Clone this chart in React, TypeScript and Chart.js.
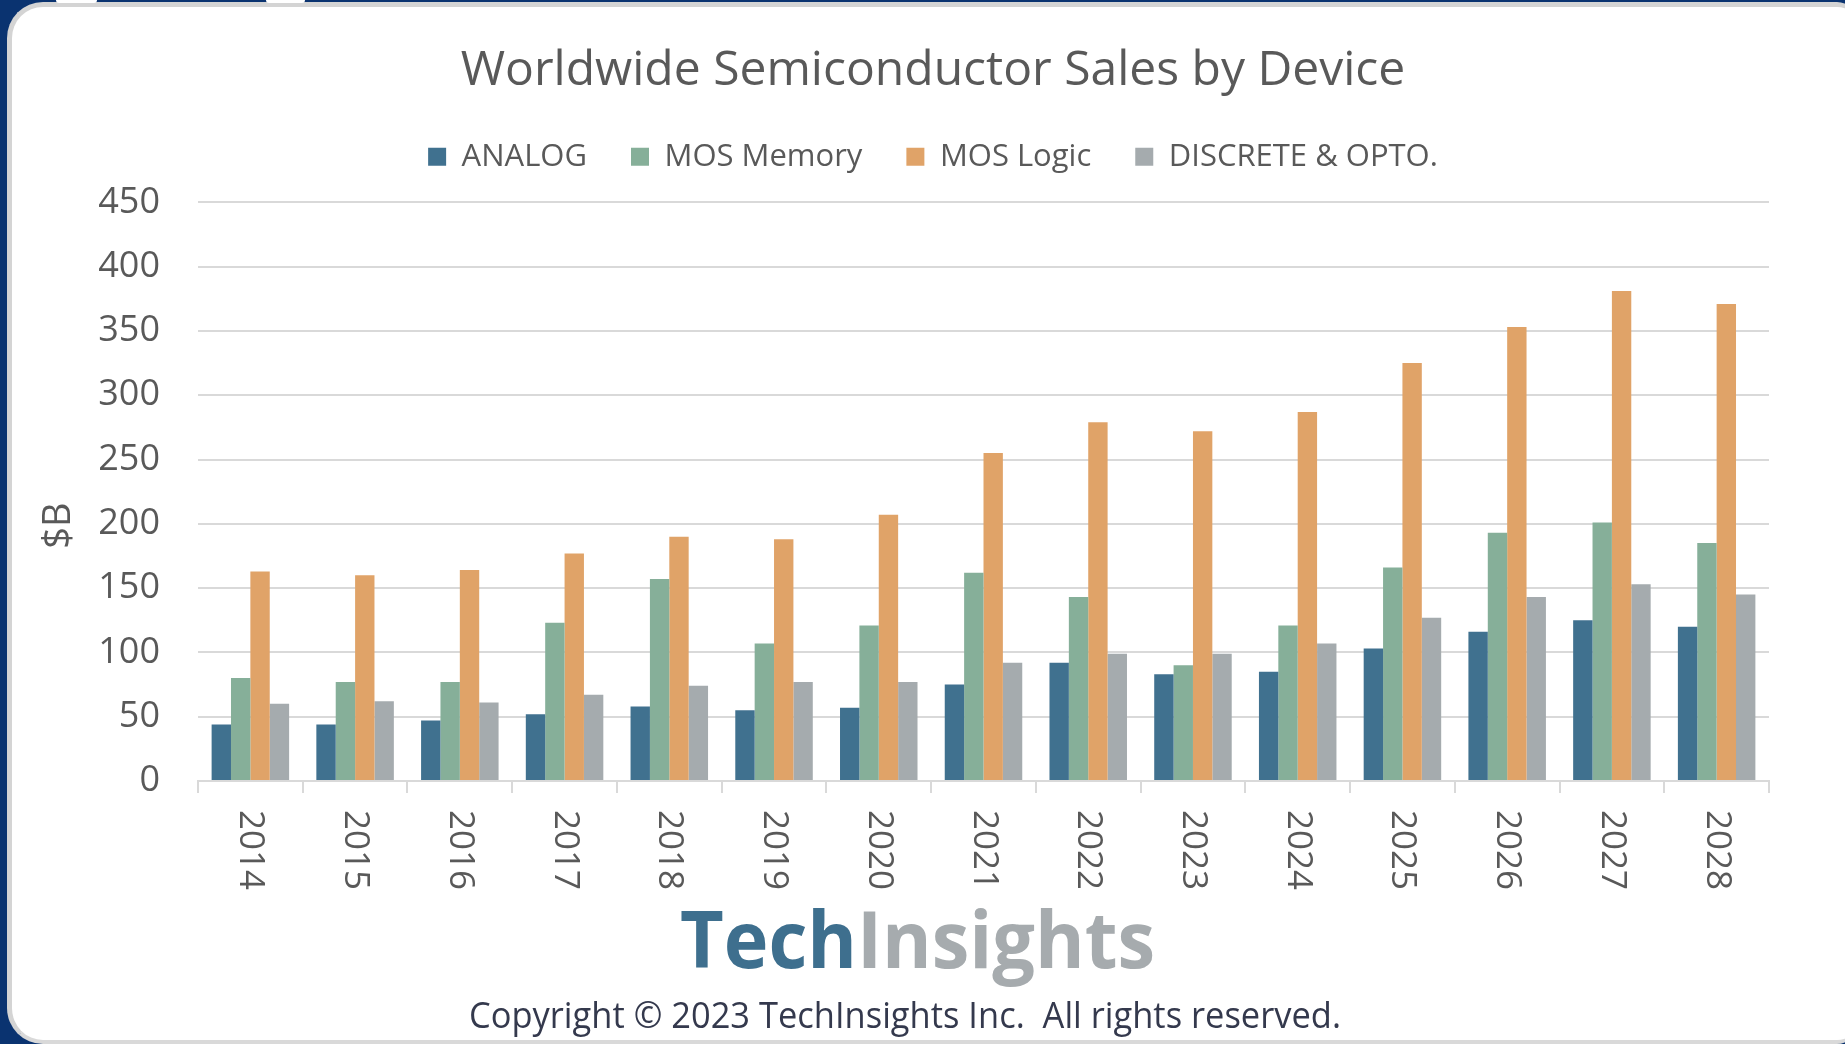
import React, { useEffect, useRef } from "react";
import { Chart, registerables } from "chart.js";

Chart.register(...registerables);

const years = ["2014", "2015", "2016", "2017", "2018", "2019", "2020", "2021", "2022", "2023", "2024", "2025", "2026", "2027", "2028"];
const analog = [44, 44, 47, 52, 58, 55, 57, 75, 92, 83, 85, 103, 116, 125, 120];
const mosMemory = [80, 77, 77, 123, 157, 107, 121, 162, 143, 90, 121, 166, 193, 201, 185];
const mosLogic = [163, 160, 164, 177, 190, 188, 207, 255, 279, 272, 287, 325, 353, 381, 371];
const discreteOpto = [60, 62, 61, 67, 74, 77, 77, 92, 99, 99, 107, 127, 143, 153, 145];

const seriesNames = ["ANALOG", "MOS Memory", "MOS Logic", "DISCRETE & OPTO."];
const seriesColors = ["#40718f", "#86af99", "#e0a368", "#a5abae"];

const titleText = "Worldwide Semiconductor Sales by Device";
const yAxisTitle = "$B";
const logoPart1 = "Tech";
const logoPart2 = "Insights";
const copyrightText = "Copyright \u00a9 2023 TechInsights Inc.  All rights reserved.";

const FONT = "'Open Sans', 'Noto Sans', sans-serif";
const TEXT = "#595959";

const extrasPlugin = {
  id: "extras",
  afterDraw(chart: any) {
    const ctx = chart.ctx as CanvasRenderingContext2D;
    const xs = chart.scales.x;
    const ys = chart.scales.y;
    ctx.save();
    // x labels rotated clockwise (reading top to bottom)
    ctx.fillStyle = TEXT;
    ctx.font = `35px ${FONT}`;
    ctx.textAlign = "left";
    ctx.textBaseline = "middle";
    years.forEach((label, i) => {
      const px = xs.getPixelForValue(i);
      ctx.save();
      ctx.translate(px, xs.top + 29);
      ctx.rotate(Math.PI / 2);
      ctx.fillText(label, 0, 0);
      ctx.restore();
    });
    // y axis title
    ctx.save();
    ctx.font = `38px ${FONT}`;
    ctx.textAlign = "center";
    ctx.textBaseline = "middle";
    ctx.translate(59, (ys.top + ys.bottom) / 2 + 34);
    ctx.rotate(-Math.PI / 2);
    ctx.fillText(yAxisTitle, 0, 0);
    ctx.restore();
    // logo
    ctx.save();
    ctx.font = `bold 79px ${FONT}`;
    ctx.textAlign = "left";
    ctx.textBaseline = "alphabetic";
    const w1 = ctx.measureText(logoPart1).width;
    const w2 = ctx.measureText(logoPart2).width;
    const sx = 475 / (w1 + w2);
    ctx.translate(680, 968);
    ctx.scale(sx, 1);
    ctx.fillStyle = "#3e6f8e";
    ctx.fillText(logoPart1, 0, 0);
    ctx.fillStyle = "#a6abae";
    ctx.fillText(logoPart2, w1, 0);
    ctx.restore();
    // copyright
    ctx.save();
    ctx.font = `36px ${FONT}`;
    ctx.textAlign = "left";
    ctx.textBaseline = "alphabetic";
    const cw = ctx.measureText(copyrightText).width;
    ctx.translate(469, 1028);
    ctx.scale(872 / cw, 1);
    ctx.fillStyle = "#34394d";
    ctx.fillText(copyrightText, 0, 0);
    ctx.restore();
    ctx.restore();
  },
};

export default function App() {
  const canvasRef = useRef<HTMLCanvasElement | null>(null);

  useEffect(() => {
    if (!canvasRef.current) return;
    const values = [analog, mosMemory, mosLogic, discreteOpto];
    const chart = new Chart(canvasRef.current, {
      type: "bar",
      data: {
        labels: years,
        datasets: seriesNames.map((name, i) => ({
          label: name,
          data: values[i],
          backgroundColor: seriesColors[i],
          borderWidth: 0,
          categoryPercentage: 0.74,
          barPercentage: 1.0,
        })),
      },
      options: {
        animation: false,
        responsive: true,
        maintainAspectRatio: false,
        layout: { padding: { left: 97, right: 76, top: 0, bottom: 0 } },
        plugins: {
          title: {
            display: true,
            text: titleText,
            color: TEXT,
            font: { family: FONT, size: 48, weight: "normal" as any, lineHeight: 1.1 },
            padding: { top: 44.5, bottom: 0 },
          },
          subtitle: {
            display: true,
            text: "",
            font: { size: 10 },
            padding: { top: 8, bottom: 0 },
            weight: 500,
          } as any,
          legend: {
            display: true,
            position: "top",
            labels: {
              color: TEXT,
              font: { family: FONT, size: 31 },
              boxWidth: 18,
              boxHeight: 18,
              padding: 44,
            },
          },
          tooltip: { enabled: false },
        },
        scales: {
          x: {
            offset: true,
            grid: {
              display: true,
              drawOnChartArea: false,
              drawTicks: true,
              tickLength: 12,
              color: "#d9d9d9",
              lineWidth: 2,
              offset: true,
            },
            border: { display: true, color: "#d9d9d9", width: 2 },
            ticks: { display: false },
            afterFit: (scale: any) => {
              scale.height = 263;
            },
          },
          y: {
            min: 0,
            max: 450,
            ticks: {
              stepSize: 50,
              color: TEXT,
              font: { family: FONT, size: 36 },
              padding: 38,
            },
            grid: { color: "#d9d9d9", lineWidth: 2, drawTicks: false },
            border: { display: false },
            afterFit: (scale: any) => {
              scale.width = 101;
            },
          },
        },
      },
      plugins: [extrasPlugin],
    });
    return () => chart.destroy();
  }, []);

  return (
    <div style={{ position: "fixed", left: 0, top: 0, width: 1845, height: 1044, background: "#0a3370", overflow: "hidden" }}>
      <div
        style={{
          position: "absolute",
          left: 7,
          top: 2,
          width: 1850,
          height: 1042,
          boxSizing: "border-box",
          background: "#ffffff",
          borderLeft: "5px solid #d4d4d4",
          borderTop: "5px solid #d4d4d4",
          borderBottom: "4px solid #d9d9d9",
          borderRadius: "36px 20px 20px 36px",
        }}
      />
      <div style={{ position: "absolute", left: 56, top: 0, width: 41, height: 3, background: "#ffffff", borderRadius: "0 0 8px 8px" }} />
      <div style={{ position: "absolute", left: 266, top: 0, width: 39, height: 3, background: "#ffffff", borderRadius: "0 0 8px 8px" }} />
      <div style={{ position: "absolute", left: 0, top: 0, width: 1845, height: 1044 }}>
        <canvas ref={canvasRef} />
      </div>
    </div>
  );
}
